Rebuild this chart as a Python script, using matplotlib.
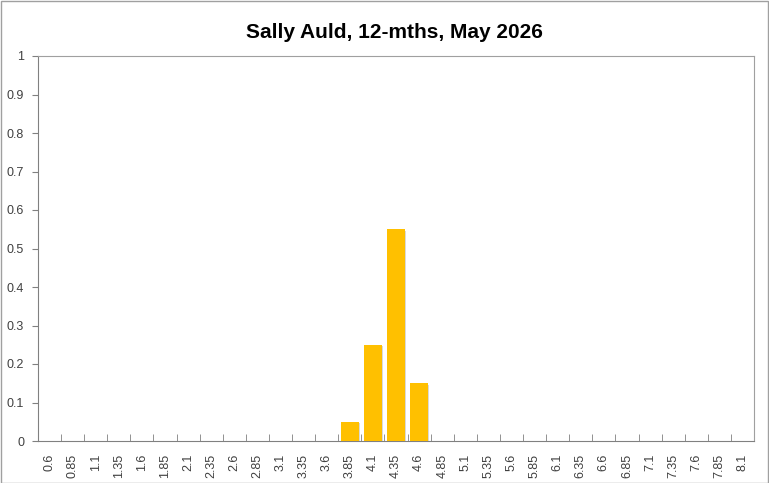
import matplotlib.pyplot as plt
import numpy as np

categories = ["0.6", "0.85", "1.1", "1.35", "1.6", "1.85", "2.1", "2.35", "2.6", "2.85",
              "3.1", "3.35", "3.6", "3.85", "4.1", "4.35", "4.6", "4.85", "5.1", "5.35",
              "5.6", "5.85", "6.1", "6.35", "6.6", "6.85", "7.1", "7.35", "7.6", "7.85", "8.1"]
values = [0, 0, 0, 0, 0, 0, 0, 0, 0, 0,
          0, 0, 0, 0.05, 0.25, 0.55, 0.15, 0, 0, 0,
          0, 0, 0, 0, 0, 0, 0, 0, 0, 0, 0]
yticks = [0, 0.1, 0.2, 0.3, 0.4, 0.5, 0.6, 0.7, 0.8, 0.9, 1]
ytick_labels = ["0", "0.1", "0.2", "0.3", "0.4", "0.5", "0.6", "0.7", "0.8", "0.9", "1"]

plt.rcParams['font.family'] = ['Liberation Sans', 'DejaVu Sans']

fig = plt.figure(figsize=(7.69, 4.83), dpi=100)
ax = fig.add_axes([38/769, 1 - 441/483, (754 - 38)/769, (441 - 56)/483])

x = np.arange(len(categories))
# faint shadow behind the bars, like the spreadsheet chart
ax.bar(x + 0.06, values, width=0.78, bottom=-0.004, color="#D9D9D9", edgecolor="none", zorder=2)
ax.bar(x, values, width=0.78, color="#FFC000", edgecolor="none", zorder=3)

ax.set_xlim(-0.5, len(categories) - 0.5)
ax.set_ylim(0, 1)
ax.set_yticks(yticks)
ax.set_yticklabels(ytick_labels, fontsize=9, color="#404040")
ax.set_xticks(x)
ax.set_xticklabels(categories, rotation=90, fontsize=9, color="#404040")
ax.tick_params(axis='x', length=0, pad=9)
ax.set_xticks(np.arange(-0.5, len(categories)), minor=True)
ax.tick_params(axis='x', which='minor', length=5, color="#808080", direction='in')
ax.tick_params(axis='y', length=4, color="#808080", pad=6)

for s in ax.spines.values():
    s.set_color("#A0A0A0")
    s.set_linewidth(0.8)
ax.spines['bottom'].set_color("#808080")
ax.spines['left'].set_color("#808080")

fig.text(394/769, 1 - 32/483, "Sally Auld, 12-mths, May 2026", ha='center', va='center',
         fontsize=15, fontweight='bold')

fig.patches.append(plt.Rectangle((0.001, 0.001), 0.998, 0.997, transform=fig.transFigure,
                                 fill=False, edgecolor="#A0A0A0", linewidth=1))

fig.savefig("out.png", dpi=100)
